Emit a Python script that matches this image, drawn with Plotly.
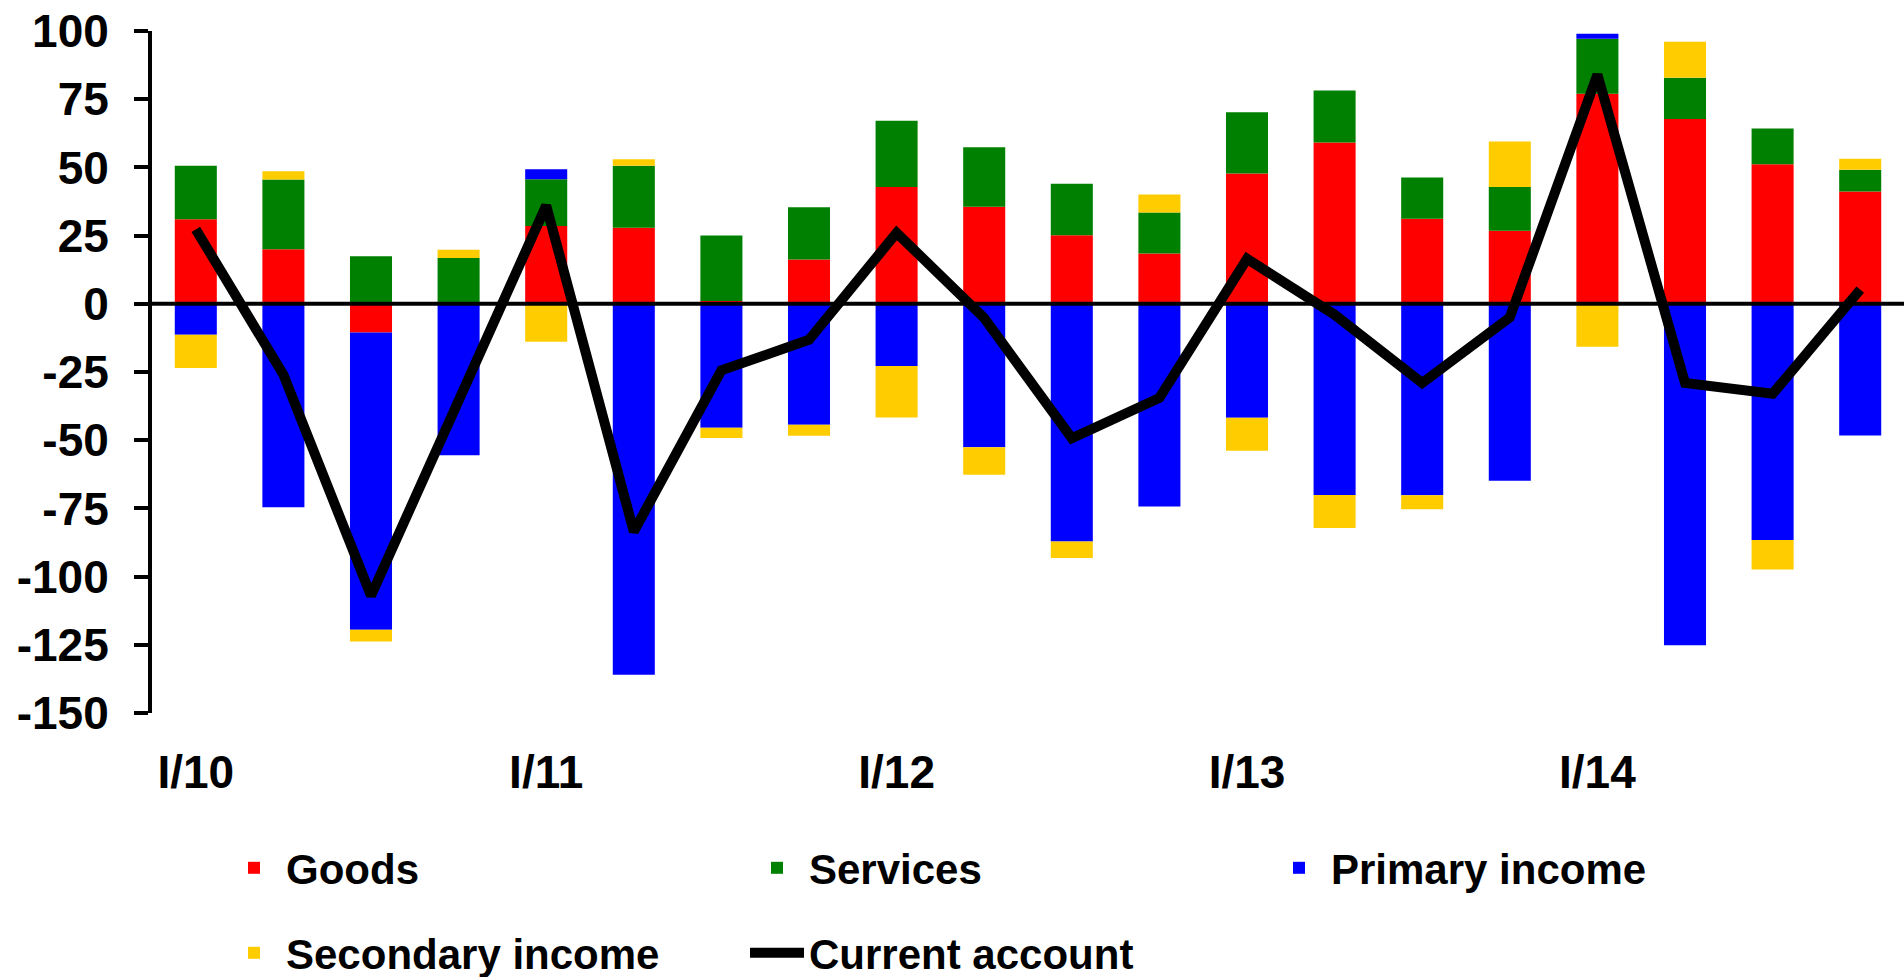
import plotly.graph_objects as go

quarters = ["I/10", "II/10", "III/10", "IV/10",
            "I/11", "II/11", "III/11", "IV/11",
            "I/12", "II/12", "III/12", "IV/12",
            "I/13", "II/13", "III/13", "IV/13",
            "I/14", "II/14", "III/14", "IV/14"]

goods = [31.0, 20.0, -10.5, 0.5, 28.5, 27.9, 1.0, 16.2, 42.8, 35.6,
         25.1, 18.4, 47.8, 59.1, 31.2, 26.8, 77.0, 67.7, 51.2, 41.2]
services = [19.6, 25.6, 17.4, 16.3, 17.2, 22.7, 24.0, 19.2, 24.3, 21.8,
            18.9, 15.1, 22.4, 19.1, 15.1, 16.0, 20.2, 15.2, 13.1, 7.9]
primary_income = [-11.3, -74.6, -109.0, -55.5, 3.6, -136.0, -45.4, -44.3, -22.8, -52.6,
                  -87.1, -74.3, -41.8, -70.1, -70.2, -64.9, 1.8, -125.2, -86.6, -48.3]
secondary_income = [-12.2, 3.0, -4.3, 3.0, -13.9, 2.4, -3.8, -4.1, -18.9, -10.1,
                    -6.1, 6.6, -12.1, -12.1, -5.1, 16.7, -15.7, 13.2, -10.8, 4.1]
current_account = [27.3, -26.0, -107.0, -35.5, 36.0, -83.5, -24.4, -13.2, 26.0, -5.2,
                   -49.3, -34.5, 16.5, -4.0, -29.0, -5.0, 84.0, -29.0, -33.0, 5.2]

x_tick_labels = ["I/10", "I/11", "I/12", "I/13", "I/14"]
y_tick_values = [100, 75, 50, 25, 0, -25, -50, -75, -100, -125, -150]
y_tick_labels = ["100", "75", "50", "25", "0", "-25", "-50", "-75", "-100", "-125", "-150"]

FONT = "Liberation Sans, Arial, sans-serif"
W, H = 1904, 977
ML, MR, MT, MB = 152, 0, 31, 264


def cx(px):
    return px / W


def cy(py):
    return (H - py) / H


fig = go.Figure()
series = [
    ("Goods", goods, "#FF0000", "legend"),
    ("Services", services, "#008000", "legend2"),
    ("Primary income", primary_income, "#0000FF", "legend3"),
    ("Secondary income", secondary_income, "#FFCC00", "legend4"),
]
for name, vals, col, lg in series:
    fig.add_trace(go.Bar(x=quarters, y=vals, name=name,
                         marker=dict(color=col, line=dict(width=0)), legend=lg))

fig.add_trace(go.Scatter(x=quarters, y=current_account, name="Current account", mode="lines",
                         line=dict(color="black", width=10), legend="legend5"))

legend_font = dict(family=FONT, size=42, color="black", weight="bold")


def leg(xpx, ypx):
    return dict(x=cx(xpx), y=cy(ypx), xref="container", yref="container",
                xanchor="left", yanchor="middle",
                font=legend_font, bgcolor="rgba(0,0,0,0)", itemwidth=54,
                orientation="h")


fig.update_layout(
    width=W, height=H,
    margin=dict(l=ML, r=MR, t=MT, b=MB, pad=0, autoexpand=False),
    paper_bgcolor="white", plot_bgcolor="white",
    barmode="relative", bargap=0.52,
    font=dict(family=FONT, size=46, color="black", weight="bold"),
    showlegend=True,
    legend=leg(222, 868),
    legend2=leg(745, 868),
    legend3=leg(1267, 868),
    legend4=leg(222, 953),
    legend5=leg(745, 953),
    xaxis=dict(
        type="category", range=[-0.5, 19.5],
        tickmode="array", tickvals=x_tick_labels, ticktext=x_tick_labels,
        ticks="", showline=False, showgrid=False, zeroline=False,
        tickfont=dict(family=FONT, size=46, color="black", weight="bold"),
        ticklabelstandoff=28,
    ),
    yaxis=dict(
        range=[-150, 100],
        tickmode="array", tickvals=y_tick_values, ticktext=y_tick_labels,
        ticks="outside", ticklen=14, tickwidth=4, tickcolor="black",
        showline=True, linewidth=4, linecolor="black",
        showgrid=False, zeroline=False,
        tickfont=dict(family=FONT, size=46, color="black", weight="bold"),
        ticklabelstandoff=16, ticklabeloverflow="allow",
    ),
    shapes=[dict(type="line", xref="paper", x0=0, x1=1, yref="y", y0=0, y1=0,
                 line=dict(color="black", width=4), layer="above")],
)

fig.write_html("out.html",
               config={"displayModeBar": False},
               post_script="document.body.style.margin='0';document.body.style.overflow='hidden';")
